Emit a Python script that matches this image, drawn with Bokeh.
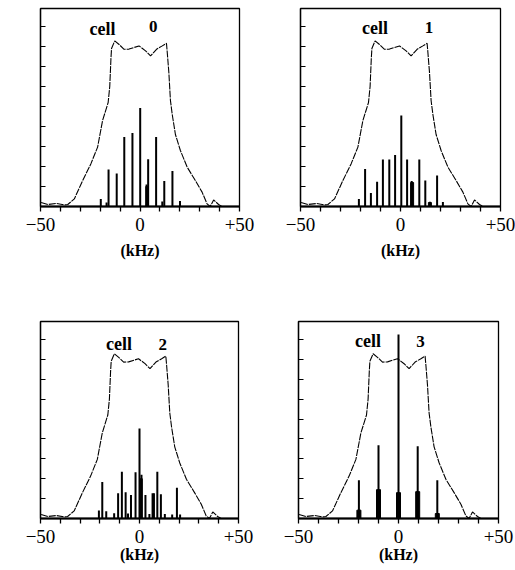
from bokeh.plotting import figure
from bokeh.layouts import column, row
from bokeh.models import Range1d, FixedTicker
from bokeh.core.properties import value
from bokeh.embed import file_html
from bokeh.resources import INLINE

# ---- data -------------------------------------------------------------
# broad envelope (kHz, arbitrary amplitude units)
env_khz = [-49.7, -46.3, -42.0, -38.0, -36.3, -33.0, -28.8, -24.7, -21.3, -18.8,
           -16.0, -15.2, -14.6, -14.3, -12.7, -10.5, -8.0, -5.5, -0.5, 2.8,
           5.3, 8.3, 11.2, 13.3, 13.7, 14.5, 15.3, 16.2, 17.8, 20.3,
           23.7, 27.8, 31.2, 33.7, 35.3, 37.0, 39.5, 41.2]
env_amp = [0.20, 0.10, 0.15, 0.08, 0.10, 0.38, 1.30, 2.13, 2.97, 4.30,
           5.20, 6.00, 7.40, 7.90, 8.28, 8.10, 7.86, 7.87, 8.03, 7.78,
           7.53, 7.86, 8.03, 8.16, 7.70, 6.70, 5.30, 4.60, 3.60, 2.80,
           1.97, 1.30, 0.72, 0.13, 0.00, 0.33, 0.10, 0.00]

cell_names = ["0", "1", "2", "3"]

lines0_khz = [-19.7, -16.8, -15.8, -11.7, -7.9, -3.8, 0.1, 3.3, 4.1, 8.1, 11.2, 12.2, 16.3, 20.1]
lines0_amp = [0.38, 0.20, 1.85, 1.65, 3.48, 3.68, 4.92, 1.10, 2.36, 3.47, 0.25, 1.28, 1.78, 0.27]
blobs0_khz = [3.5]
blobs0_amp = [1.0]

lines1_khz = [-20.8, -17.7, -14.8, -11.7, -8.8, -5.6, -2.7, 0.4, 3.3, 5.6, 9.4, 12.4, 14.7, 18.3, 21.2]
lines1_amp = [0.37, 1.87, 0.68, 1.24, 2.35, 2.35, 2.57, 4.55, 2.35, 1.27, 2.35, 1.30, 0.24, 1.55, 0.22]
blobs1_khz = [5.8, 14.7]
blobs1_amp = [1.2, 0.2]

lines2_khz = [-20.5, -18.8, -16.8, -12.8, -10.8, -8.9, -7.0, -5.8, -4.3, -2.0, 0.0, 1.0,
              3.0, 5.0, 6.6, 7.3, 9.0, 10.8, 12.8, 16.5, 18.9, 20.5]
lines2_amp = [0.40, 1.83, 0.37, 0.27, 1.27, 2.35, 1.32, 0.25, 1.18, 2.32, 4.52, 2.20,
              1.18, 0.23, 1.27, 1.27, 2.35, 1.22, 0.23, 0.20, 1.55, 0.20]
blobs2_khz = [0.9]
blobs2_amp = [2.0]

lines3_khz = [-19.8, -10.0, 0.0, 9.6, 19.4]
lines3_amp = [1.92, 3.68, 9.25, 3.63, 1.92]
blobs3_khz = [-19.8, -10.0, 0.0, 9.6, 19.4]
blobs3_amp = [0.42, 1.45, 1.30, 1.35, 0.25]

x_label_ticks = [-50, 0, 50]
x_label_text = ["\u221250", "0", "+50"]
x_small_ticks = [-40, -30, -20, -10, 10, 20, 30, 40]
y_ticks = [1, 2, 3, 4, 5, 6, 7, 8, 9]

SERIF = "Liberation Serif"


def panel(name, lx, la, bx, ba, blob_w, w, h, bl, br, bt, bb,
          cell_pos, num_pos, std, lab_std):
    p = figure(width=w, height=h, output_backend="svg", toolbar_location=None,
               x_range=Range1d(-50, 50), y_range=Range1d(0, 9.9),
               min_border_left=bl, min_border_right=br,
               min_border_top=bt, min_border_bottom=bb)
    p.grid.visible = False
    p.background_fill_color = "white"
    p.border_fill_color = "white"
    p.outline_line_color = "black"
    p.outline_line_width = 1.3

    xa = p.xaxis[0]
    xa.ticker = FixedTicker(ticks=x_label_ticks, minor_ticks=x_small_ticks)
    xa.major_label_overrides = dict(zip(x_label_ticks, x_label_text))
    xa.major_tick_in = 0
    xa.major_tick_out = 5
    xa.minor_tick_in = 0
    xa.minor_tick_out = 5
    xa.major_tick_line_width = 1.3
    xa.minor_tick_line_width = 1.3
    xa.major_tick_line_color = "black"
    xa.minor_tick_line_color = "black"
    xa.axis_line_width = 2.2
    xa.axis_line_color = "black"
    xa.major_label_text_font = SERIF
    xa.major_label_text_font_size = "19px"
    xa.major_label_text_color = "black"
    xa.major_label_standoff = std
    xa.axis_label = "(kHz)"
    xa.axis_label_text_font = SERIF
    xa.axis_label_text_font_style = "bold"
    xa.axis_label_text_font_size = "16px"
    xa.axis_label_text_color = "black"
    xa.axis_label_standoff = lab_std

    ya = p.yaxis[0]
    ya.ticker = FixedTicker(ticks=[], minor_ticks=y_ticks)
    ya.major_tick_line_color = None
    ya.minor_tick_in = 5
    ya.minor_tick_out = 0
    ya.minor_tick_line_width = 1.2
    ya.minor_tick_line_color = "black"
    ya.axis_line_width = 1.3
    ya.axis_line_color = "black"
    ya.major_label_standoff = 0

    p.line(env_khz, env_amp, line_color="black", line_width=1.1, line_dash="7 1")
    p.segment(x0=lx, y0=[0] * len(lx), x1=lx, y1=la, line_color="black", line_width=2)
    p.vbar(x=bx, top=ba, bottom=0, width=blob_w, fill_color="black", line_color="black")

    p.text(x=[cell_pos[0]], y=[cell_pos[1]], text=["cell"], text_font=value(SERIF),
           text_font_style="bold", text_font_size="18px", text_align="center",
           text_baseline="middle", text_color="black")
    p.text(x=[num_pos[0]], y=[num_pos[1]], text=[name], text_font=value(SERIF),
           text_font_style="bold", text_font_size="17px", text_align="center",
           text_baseline="middle", text_color="black")
    return p


p0 = panel(cell_names[0], lines0_khz, lines0_amp, blobs0_khz, blobs0_amp, 1.2,
           256, 300, 40, 17, 8, 94, (-18.8, 8.9), (6.6, 9.0), 6, 8)
p1 = panel(cell_names[1], lines1_khz, lines1_amp, blobs1_khz, blobs1_amp, 1.5,
           259, 300, 44, 15, 8, 94, (-12.7, 8.95), (14.2, 8.95), 6, 8)
p2 = panel(cell_names[2], lines2_khz, lines2_amp, blobs2_khz, blobs2_amp, 1.0,
           256, 270, 40, 18, 18, 52, (-10.3, 8.75), (11.7, 8.75), 6, 0)
p3 = panel(cell_names[3], lines3_khz, lines3_amp, blobs3_khz, blobs3_amp, 2.0,
           259, 270, 42, 17, 21, 49, (-15.3, 8.9), (11.0, 8.9), 6, 0)

layout = column(row(p0, p1), row(p2, p3))
open("out.html", "w").write(file_html(layout, INLINE))
